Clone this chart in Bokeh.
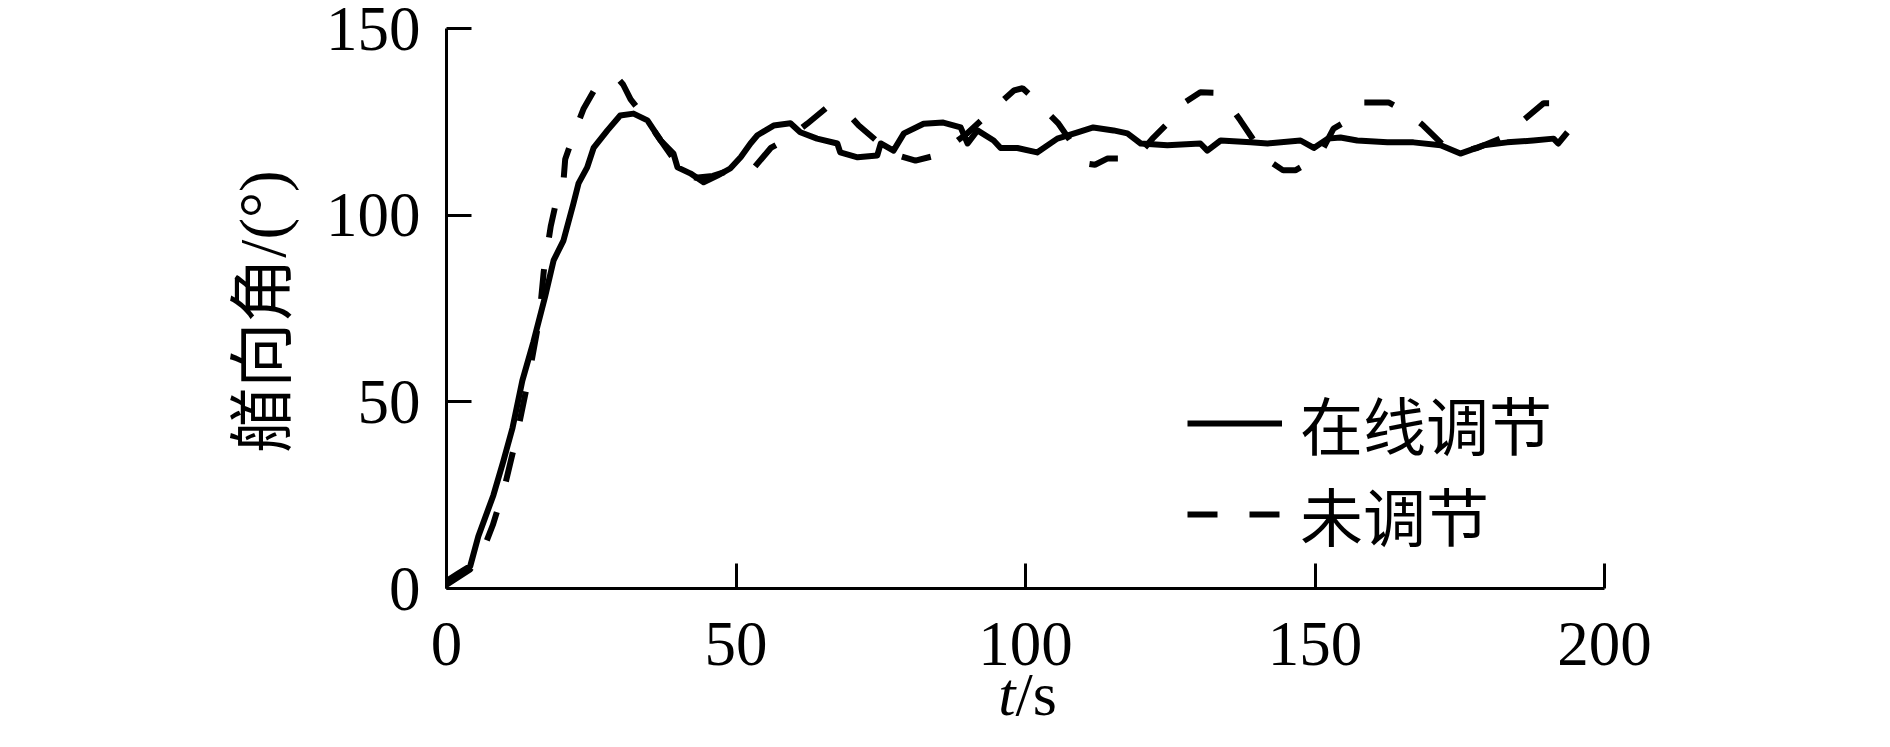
import math
from bokeh.plotting import figure
from bokeh.models import Range1d, FixedTicker, Legend, LegendItem, Label
from bokeh.embed import file_html
from bokeh.resources import INLINE

# ---- data ----
t_online = [0, 2, 4.1, 5.5, 8.1, 9.8, 11.4, 13.1, 15, 17, 18.5, 20.2, 21.9, 22.8, 24.3, 25.4,
            27.8, 30, 32.3, 34.7, 37, 39.2, 39.9, 42.1, 44.4, 46.8, 49, 50.8, 52.5, 53.7, 56.5,
            59.4, 61.1, 64, 67.5, 68, 71, 74.4, 75, 77.2, 79, 82.4, 85.8, 88.8, 90, 91.7, 94.5,
            95.7, 98.6, 102, 105.5, 109, 111.7, 115.2, 117.6, 119.9, 124.5, 130.2, 131.4, 133.7,
            138.9, 141.8, 147.5, 149.8, 152.2, 154.4, 157.3, 162.5, 167, 171.7, 175.1, 179.1,
            183.2, 187.7, 191.2, 192, 193.6]
y_online = [2, 4, 6, 14, 25, 34, 43, 55.7, 66, 78, 87.9, 93.2, 103, 108.5, 112.8, 118,
            122.7, 126.7, 127.2, 125.4, 120, 116.5, 112.8, 111.2, 108.8, 110.6, 112.5, 115.5, 119.2, 121.4, 124,
            124.6, 122.2, 120.5, 119.2, 116.8, 115.5, 116, 119.2, 117.3, 121.9, 124.5, 124.8, 123.5, 119.2, 122.7, 120,
            118, 118, 116.8, 120.5, 122.2, 123.5, 122.7, 121.9, 119.2, 118.7, 119.2, 117.3, 120,
            119.5, 119.2, 120, 118, 120.5, 120.8, 120, 119.5, 119.5, 118.7, 116.5, 118.7,
            119.5, 120, 120.5, 119.2, 122.2]

t_none = [0, 2, 4, 6, 8, 10, 12, 14, 16, 16.8, 18, 19, 20.2, 20.5, 22.3, 23.7, 25.7, 28, 29.5,
          30.5, 31.8, 34, 37, 39.7, 43, 46, 49, 53, 56, 59, 62.3, 65.5, 67, 68.9, 71.2, 75, 78,
          81, 85, 90, 94.8, 98, 99.5, 101.4, 105.7, 108.3, 110.7, 112, 114.2, 119, 122.1, 124.5,
          127.3, 130.2, 132.5, 134.9, 137.1, 140, 142, 144.5, 146.6, 150.6, 153.2, 155, 158.4,
          162.7, 166, 168.7, 172, 175, 178, 182, 185.5, 189.5, 193]
y_none = [1, 3, 5, 9, 17, 27, 40, 55, 72, 85, 97, 104, 109, 115, 123, 128.6, 134, 136, 136.8,
          135, 131, 126.7, 120, 114, 110, 110.5, 112, 112.5, 118, 120.5, 124.5, 128.6, 129, 128, 124, 119, 116,
          114.6, 116.2, 122, 128.9, 133.4, 134, 131.3, 124.5, 118.7, 113.8, 113.5, 115.2, 115.2, 120.8, 124.5,
          130, 132.9, 132.8, 130.2, 125.4, 118.7, 114.6, 112, 112, 115.5, 123.2, 124.8, 130.2,
          130.2, 127.5, 124, 119, 117, 118, 120.5, 124.8, 130, 130]

x_ticks = [0, 50, 100, 150, 200]
y_ticks = [0, 50, 100, 150]
label_online = "在线调节"
label_none = "未调节"
y_label = "艏向角/(°)"
x_label_italic = "t"
x_label_rest = "/s"

SERIF = "'Liberation Serif', 'Noto Sans CJK SC'"
CJK = "'Noto Sans CJK SC'"

W, H = 1874, 731
AX_L, AX_T, AX_R, AX_B = 446, 28, 1604, 588   # axis positions in figure pixels
ppx = (AX_R - AX_L) / 200.0
ppu = (AX_B - AX_T) / 150.0
x_lo, x_hi = -AX_L / ppx, (W - AX_L) / ppx
y_lo, y_hi = -(H - AX_B) / ppu, 150 + AX_T / ppu

def dx(px):
    return (px - AX_L) / ppx

def dy(py):
    return (AX_B - py) / ppu

p = figure(width=W, height=H, output_backend="svg", toolbar_location=None,
           x_range=Range1d(x_lo, x_hi), y_range=Range1d(y_lo, y_hi),
           min_border_left=0, min_border_right=0, min_border_top=0, min_border_bottom=0)
p.outline_line_color = None
p.grid.visible = False
p.background_fill_color = "white"
p.border_fill_color = "white"

for ax in (p.xaxis[0], p.yaxis[0]):
    ax.axis_line_width = 3
    ax.major_tick_line_width = 3
    ax.major_tick_in = 25
    ax.major_tick_out = 0
    ax.minor_tick_line_color = None
    ax.major_label_text_font = SERIF
    ax.major_label_text_font_size = "63px"
    ax.major_label_text_color = "black"
    ax.axis_line_color = "black"
    ax.major_tick_line_color = "black"
    ax.fixed_location = 0

p.xaxis[0].ticker = FixedTicker(ticks=x_ticks)
p.xaxis[0].bounds = (0, 200)
p.yaxis[0].ticker = FixedTicker(ticks=y_ticks)
p.yaxis[0].bounds = (0, 150)
p.xaxis[0].major_label_standoff = 34
p.yaxis[0].major_label_standoff = 26

r1 = p.line(t_online, y_online, line_color="black", line_width=6, line_join="round")
r2 = p.line(t_none, y_none, line_color="black", line_width=6, line_dash="30 32")

# y-axis title (rotated)
p.add_layout(Label(x=dx(262), y=dy(311), text=y_label, angle=math.pi / 2,
                   text_font=SERIF, text_font_size="65px", text_color="black",
                   text_align="center", text_baseline="middle"))

# x-axis title "t/s" with italic t
p.add_layout(Label(x=dx(1015), y=dy(693), text=x_label_italic,
                   text_font=SERIF, text_font_size="62px", text_font_style="italic",
                   text_align="right", text_baseline="middle", text_color="black"))
p.add_layout(Label(x=dx(1015), y=dy(693), text=x_label_rest,
                   text_font=SERIF, text_font_size="62px", text_font_style="normal",
                   text_align="left", text_baseline="middle", text_color="black"))

legend = Legend(items=[LegendItem(label=label_online, renderers=[r1]),
                       LegendItem(label=label_none, renderers=[r2])],
                location=(1187, H - 559), padding=0, margin=0, spacing=0,
                glyph_width=95, glyph_height=88, label_height=88, label_standoff=18,
                label_text_font=CJK, label_text_font_size="63px", label_text_color="black",
                border_line_color=None, background_fill_alpha=0)
p.add_layout(legend)

open("out.html", "w").write(file_html(p, INLINE))
